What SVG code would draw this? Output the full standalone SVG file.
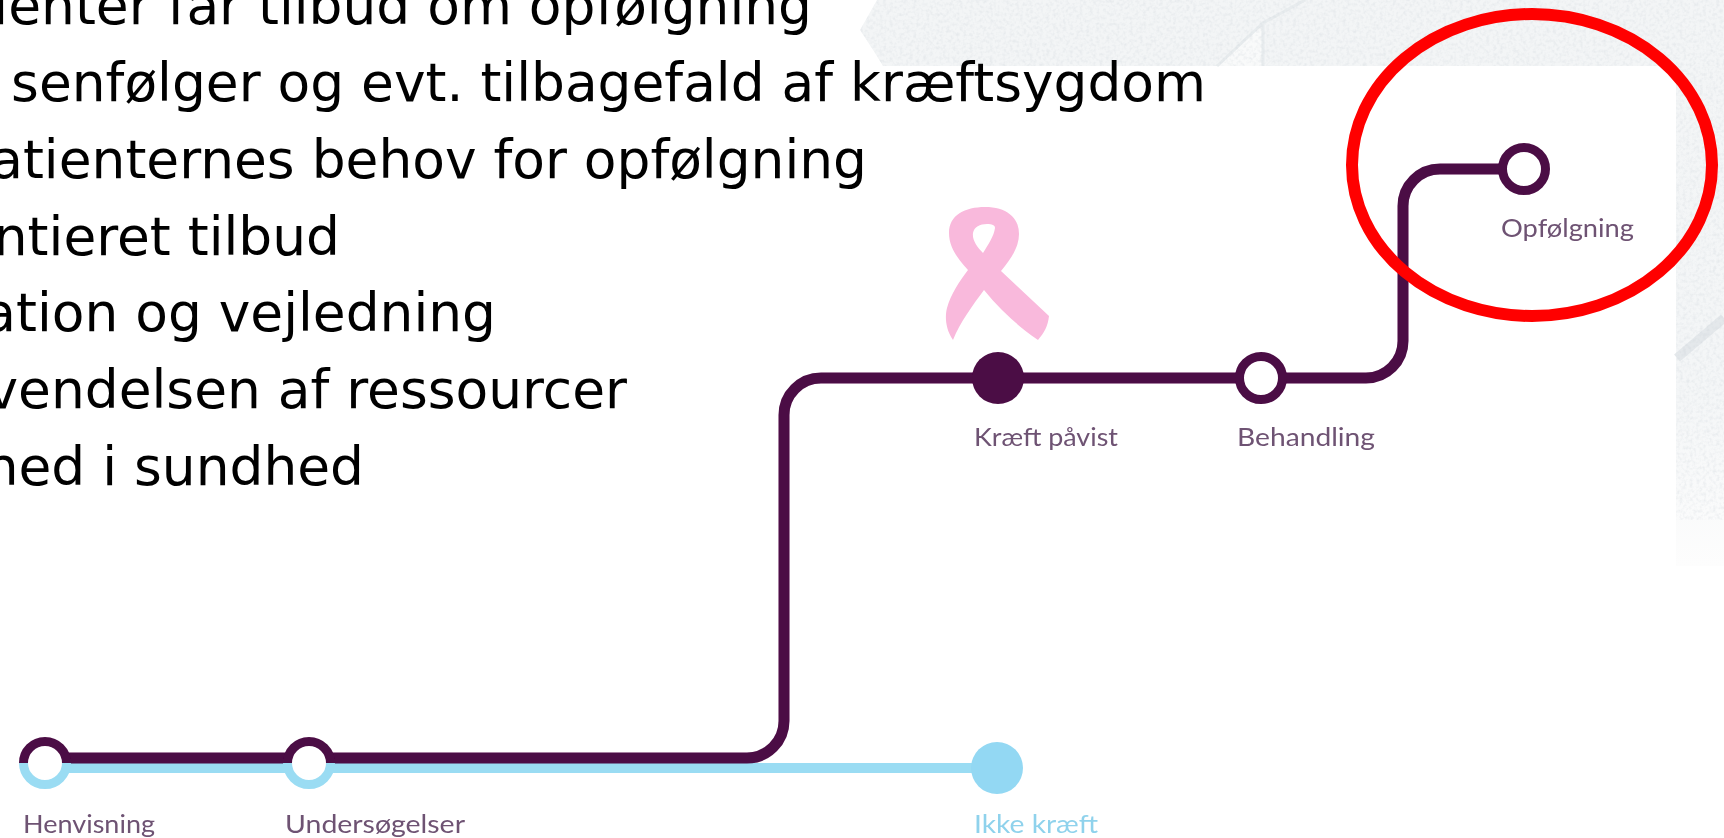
<svg xmlns="http://www.w3.org/2000/svg" width="1724" height="838" viewBox="0 0 1724 838">
<style>
.body{font-family:"DejaVu Sans",Verdana,sans-serif;font-size:53.4px;fill:#000;text-anchor:end}
.lab{font-family:Lato,"Open Sans",sans-serif;font-size:25px;fill:#6e5273;filter:url(#softer)}
.blue{fill:#8fd2ec}
.p{fill:none;stroke:#4b0a44;stroke-width:11}
.b{fill:none;stroke:#9adcf3;stroke-width:10}
.ring{fill:#fff;stroke:#4b0a44;stroke-width:9}
</style>
<defs>
<filter id="soft" x="-10%" y="-10%" width="120%" height="120%"><feGaussianBlur stdDeviation="0.7"/></filter>
<filter id="softer" x="-5%" y="-20%" width="110%" height="140%"><feGaussianBlur stdDeviation="0.55"/></filter>
<filter id="grain" x="0" y="0" width="100%" height="100%"><feTurbulence type="fractalNoise" baseFrequency="0.3" numOctaves="2" seed="4"/><feColorMatrix values="0 0 0 0 0.55  0 0 0 0 0.6  0 0 0 0 0.65  0.6 0 0 0 -0.25"/></filter>
<linearGradient id="fade" x1="0" y1="0" x2="0" y2="1"><stop offset="0" stop-color="#f3f5f6"/><stop offset="0.7" stop-color="#f4f6f7"/><stop offset="1" stop-color="#fdfdfd"/></linearGradient>
<clipPath id="half-top"><rect x="0" y="700" width="400" height="63"/></clipPath>
<clipPath id="half-bot"><rect x="0" y="763" width="400" height="40"/></clipPath>
<clipPath id="band"><polygon points="877,0 1724,0 1724,520 1676,520 1676,66 883,66 875,53 860,30"/></clipPath>
</defs>
<rect id="page" width="1724" height="838" fill="#fff"/>
<g id="texture">
<polygon points="877,0 1724,0 1724,66 883,66 875,53 860,30" fill="#f3f5f6"/>
<rect x="1676" y="0" width="48" height="566" fill="url(#fade)"/>
<polygon points="1217,66 1263,23 1263,66" fill="#f9fafa"/>
<path d="M1217,66 L1263,23 L1305,0 M1263,23 V66" fill="none" stroke="#e8ecee" stroke-width="3"/>
<path d="M1677,358 L1724,318" fill="none" stroke="#e4e8eb" stroke-width="9"/>
<g clip-path="url(#band)"><rect x="860" y="0" width="864" height="520" filter="url(#grain)"/></g>
</g>
<g id="body-text">
<text class="body" x="812" y="24">ienter får tilbud om opfølgning</text>
<text class="body" x="1206" y="101">senfølger og evt. tilbagefald af kræftsygdom</text>
<text class="body" x="867" y="178">atienternes behov for opfølgning</text>
<text class="body" x="340" y="255">ntieret tilbud</text>
<text class="body" x="496" y="331">ation og vejledning</text>
<text class="body" x="627" y="408">vendelsen af ressourcer</text>
<text class="body" x="364" y="485">hed i sundhed</text>
</g>
<g id="connectors" filter="url(#soft)">
<path class="b" d="M45,768 H997"/>
<path class="p" d="M45,758 H747 A37,37 0 0 0 784,721 V415 A37,37 0 0 1 821,378 H1366 A37,37 0 0 0 1403,341 V206 A37,37 0 0 1 1440,169 H1524"/>
</g>
<g id="n-ikke-kraeft"><circle cx="997" cy="768" r="26" fill="#93d8f3" filter="url(#soft)"/><text class="lab blue" x="974" y="833" textLength="124" lengthAdjust="spacingAndGlyphs">Ikke kræft</text></g>
<g id="n-henvisning">
<g filter="url(#soft)"><circle cx="45" cy="763" r="21.5" fill="#fff"/><circle cx="45" cy="763" r="21.5" fill="none" stroke="#4b0a44" stroke-width="9" clip-path="url(#half-top)"/><circle cx="45" cy="763" r="21.5" fill="none" stroke="#9adcf3" stroke-width="9" clip-path="url(#half-bot)"/></g>
<text class="lab" x="23" y="833" textLength="132" lengthAdjust="spacingAndGlyphs">Henvisning</text></g>
<g id="n-undersoegelser">
<g filter="url(#soft)"><circle cx="309" cy="763" r="21.5" fill="#fff"/><circle cx="309" cy="763" r="21.5" fill="none" stroke="#4b0a44" stroke-width="9" clip-path="url(#half-top)"/><circle cx="309" cy="763" r="21.5" fill="none" stroke="#9adcf3" stroke-width="9" clip-path="url(#half-bot)"/></g>
<text class="lab" x="285" y="833" textLength="180" lengthAdjust="spacingAndGlyphs">Undersøgelser</text></g>
<g id="n-kraeft-paavist">
<path filter="url(#soft)" fill="#f9b9dc" fill-rule="evenodd" d="M953,340 C945,328 945,316 947,308 C951,294 959,282 968,270 C957,258 949,247 949,233 C949,215 965,207 985,207 C1006,207 1019,217 1019,234 C1019,248 1010,260 1001,271 L1049,316 C1048,326 1044,333 1038,340 C1018,326 1000,310 984,290 C973,305 960,322 953,340 Z M983,253 C977,247 972,240 973,233 C974,227 980,224 987,224 C992,224 995,225 995,228 C994,236 988,245 983,253 Z"/>
<circle cx="998" cy="378" r="26" fill="#4b0a44" filter="url(#soft)"/>
<text class="lab" x="974" y="446" textLength="144" lengthAdjust="spacingAndGlyphs">Kræft påvist</text></g>
<g id="n-behandling"><circle class="ring" cx="1261" cy="378" r="21.5" filter="url(#soft)"/><text class="lab" x="1237" y="446" textLength="138" lengthAdjust="spacingAndGlyphs">Behandling</text></g>
<g id="n-opfoelgning"><circle class="ring" cx="1524" cy="169" r="21.5" filter="url(#soft)"/><text class="lab" x="1501" y="237" textLength="133" lengthAdjust="spacingAndGlyphs">Opfølgning</text></g>
<ellipse id="highlight" cx="1532" cy="165" rx="180" ry="151" fill="none" stroke="#f00" stroke-width="12"/>
</svg>
